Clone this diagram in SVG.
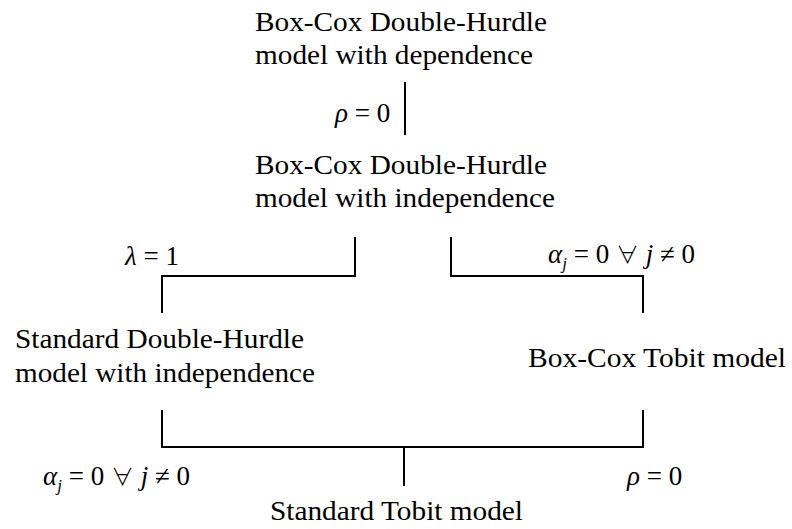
<svg xmlns="http://www.w3.org/2000/svg" width="792" height="529" viewBox="0 0 792 529">
  <style>
    .lbl { font-family: "Liberation Serif", "Times New Roman", serif; font-size: 27px; fill: #000; }
    .math { font-family: "Liberation Serif", "Times New Roman", serif; font-size: 27px; fill: #000; }
    .it { font-style: italic; }
    .sub { font-style: italic; font-size: 17px; }
    .all { font-family: "Noto Sans CJK JP", "DejaVu Serif", serif; font-weight: 300; font-size: 23px; }
    .edge { fill: none; stroke: #000; stroke-width: 2; }
  </style>
  <rect width="792" height="529" fill="#fff"/>

  <!-- connectors -->
  <g id="connectors">
    <line class="edge" x1="405" y1="82" x2="405" y2="135"/>
    <polyline class="edge" points="355,237 355,276 162,276 162,313"/>
    <polyline class="edge" points="451,237 451,276 643,276 643,313"/>
    <polyline class="edge" points="162,410 162,447 643,447 643,410"/>
    <line class="edge" x1="404" y1="447" x2="404" y2="486"/>
  </g>

  <!-- condition labels -->
  <g id="conditions">
    <text class="math" x="335" y="122"><tspan class="it">ρ</tspan> = 0</text>
    <text class="math" x="125" y="265"><tspan class="it">λ</tspan> = 1</text>
    <text class="math" x="548" y="263"><tspan class="it">α</tspan><tspan class="sub" dy="6">j</tspan><tspan dy="-6"> = 0  </tspan><tspan class="all">∀</tspan> <tspan class="it">j</tspan> ≠ 0</text>
    <text class="math" x="43" y="485"><tspan class="it">α</tspan><tspan class="sub" dy="6">j</tspan><tspan dy="-6"> = 0  </tspan><tspan class="all">∀</tspan> <tspan class="it">j</tspan> ≠ 0</text>
    <text class="math" x="627" y="485"><tspan class="it">ρ</tspan> = 0</text>
  </g>

  <g id="bc-dh-dep">
    <text class="lbl" x="255" y="31" textLength="292" lengthAdjust="spacingAndGlyphs">Box-Cox Double-Hurdle</text>
    <text class="lbl" x="255" y="64" textLength="278" lengthAdjust="spacingAndGlyphs">model with dependence</text>
  </g>

  <g id="bc-dh-indep">
    <text class="lbl" x="255" y="174" textLength="292" lengthAdjust="spacingAndGlyphs">Box-Cox Double-Hurdle</text>
    <text class="lbl" x="255" y="207" textLength="300" lengthAdjust="spacingAndGlyphs">model with independence</text>
  </g>

  <g id="std-dh-indep">
    <text class="lbl" x="15" y="348" textLength="289" lengthAdjust="spacingAndGlyphs">Standard Double-Hurdle</text>
    <text class="lbl" x="15" y="382" textLength="300" lengthAdjust="spacingAndGlyphs">model with independence</text>
  </g>

  <g id="bc-tobit">
    <text class="lbl" x="528" y="367" textLength="258" lengthAdjust="spacingAndGlyphs">Box-Cox Tobit model</text>
  </g>

  <g id="std-tobit">
    <text class="lbl" x="270" y="520" textLength="253" lengthAdjust="spacingAndGlyphs">Standard Tobit model</text>
  </g>
</svg>
